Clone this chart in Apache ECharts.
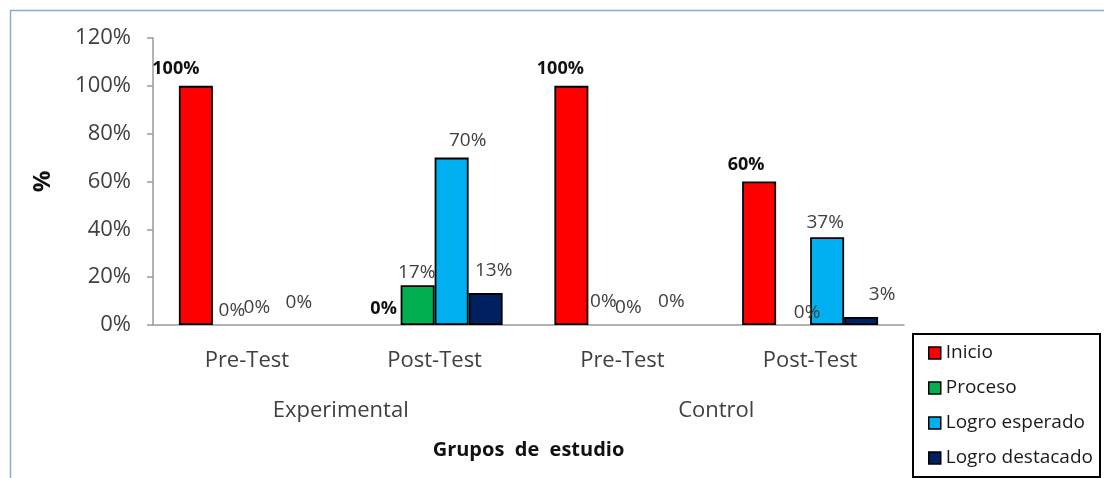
<!DOCTYPE html>
<html>
<head>
<meta charset="utf-8">
<script src="https://cdn.jsdelivr.net/npm/echarts@6/dist/echarts.min.js"></script>
<style>
html,body{margin:0;padding:0;background:#fff;}
#c{width:1104px;height:478px;}
</style>
</head>
<body>
<div id="c"></div>
<script>
// ---- data ----
const phases = ['Pre-Test', 'Post-Test', 'Pre-Test', 'Post-Test'];
const groups = ['Experimental', 'Control'];
const seriesNames = ['Inicio', 'Proceso', 'Logro esperado', 'Logro destacado'];
const inicio = [100, 0, 100, 60];
const proceso = [0, 16.67, 0, 0];
const logroEsperado = [0, 70, 0, 36.67];
const logroDestacado = [0, 13.33, 0, 3.33];
const yTicks = [0, 20, 40, 60, 80, 100, 120];

// ---- styling ----
const colors = ['#ff0000', '#00b050', '#00b0f0', '#002060'];
const boldLabels = [true, false, false, false];
const labelShift = [
  [[-20,-3],[0,-2],[-11,-3],[-13,-3]],
  [[2,0],[-1,2],[-2,-9],[14,2]],
  [[-7,-3],[16,-2],[-11,-3],[-2,0]],
  [[1,-8],[8,-8],[-2,-9],[21,-8]]
];
const FONT = 'Open Sans';
const TXT = '#404040';

const values = [inicio, proceso, logroEsperado, logroDestacado];

const chart = echarts.init(document.getElementById('c'), null, {renderer: 'canvas'});

const series = seriesNames.map((name, s) => ({
  name: name,
  type: 'bar',
  xAxisIndex: 0,
  barWidth: 34,
  barGap: '0%',
  itemStyle: {color: colors[s], borderColor: '#000', borderWidth: 1.8},
  label: {
    show: true,
    position: 'top',
    distance: 5,
    fontFamily: FONT,
    fontSize: boldLabels[s] ? 18 : 19,
    fontWeight: boldLabels[s] ? 'bold' : 'normal',
    color: boldLabels[s] ? '#111' : TXT,
    formatter: p => Math.round(p.value) + '%'
  },
  data: values[s].map((v, i) => ({
    value: v,
    itemStyle: v === 0 ? {borderWidth: 0, borderColor: 'transparent', color: 'transparent'} : undefined,
    label: {offset: labelShift[s][i]}
  }))
}));

chart.setOption({
  animation: false,
  backgroundColor: '#fff',
  grid: {left: 153, right: 200, top: 38, bottom: 153, containLabel: false},
  legend: {
    orient: 'vertical',
    left: 928,
    top: 342,
    height: 135,
    padding: 0,
    icon: 'rect',
    itemWidth: 12,
    itemHeight: 12,
    itemGap: 13,
    itemTextGap: 5,
    itemStyle: {borderColor: '#000', borderWidth: 1.5},
    textStyle: {fontFamily: FONT, fontSize: 19, color: '#1a1a1a', lineHeight: 22},
    data: seriesNames
  },
  xAxis: [
    {
      type: 'category',
      data: phases,
      position: 'bottom',
      axisLine: {lineStyle: {color: '#9a9a9a', width: 1.5}},
      axisTick: {length: 53, lineStyle: {color: '#9a9a9a', width: 1.5}},
      axisLabel: {fontFamily: FONT, fontSize: 22, color: TXT, margin: 25},
      splitLine: {show: false}
    },
    {
      type: 'category',
      data: groups,
      position: 'bottom',
      offset: 53,
      axisLine: {show: false},
      axisTick: {length: 52, lineStyle: {color: '#9a9a9a', width: 1.5}},
      axisLabel: {fontFamily: FONT, fontSize: 22, color: TXT, margin: 22},
      name: 'Grupos  de  estudio',
      nameLocation: 'middle',
      nameGap: 62,
      nameTextStyle: {fontFamily: FONT, fontSize: 20, fontWeight: 'bold', color: '#111'}
    }
  ],
  yAxis: {
    type: 'value',
    min: yTicks[0],
    max: yTicks[yTicks.length - 1],
    interval: yTicks[1] - yTicks[0],
    name: '%',
    nameLocation: 'middle',
    nameRotate: 90,
    nameGap: 98,
    nameTextStyle: {fontFamily: FONT, fontSize: 24, fontWeight: 'bold', color: '#111'},
    axisLine: {show: true, lineStyle: {color: '#9a9a9a', width: 1.5}},
    axisTick: {show: true, length: 6, lineStyle: {color: '#9a9a9a', width: 1.5}},
    axisLabel: {fontFamily: FONT, fontSize: 22, color: TXT, margin: 22, formatter: v => v + '%'},
    splitLine: {show: false}
  },
  graphic: [
    {type: 'polyline', shape: {points: [[10.5, 478], [10.5, 10.5], [1104, 10.5]]},
     style: {stroke: '#8eaacb', lineWidth: 1.5, fill: null}, silent: true},
    {type: 'rect', shape: {x: 913, y: 334, width: 187, height: 143},
     style: {stroke: '#000', lineWidth: 2, fill: null}, silent: true, z: 10}
  ],
  series: series
});
</script>
</body>
</html>
